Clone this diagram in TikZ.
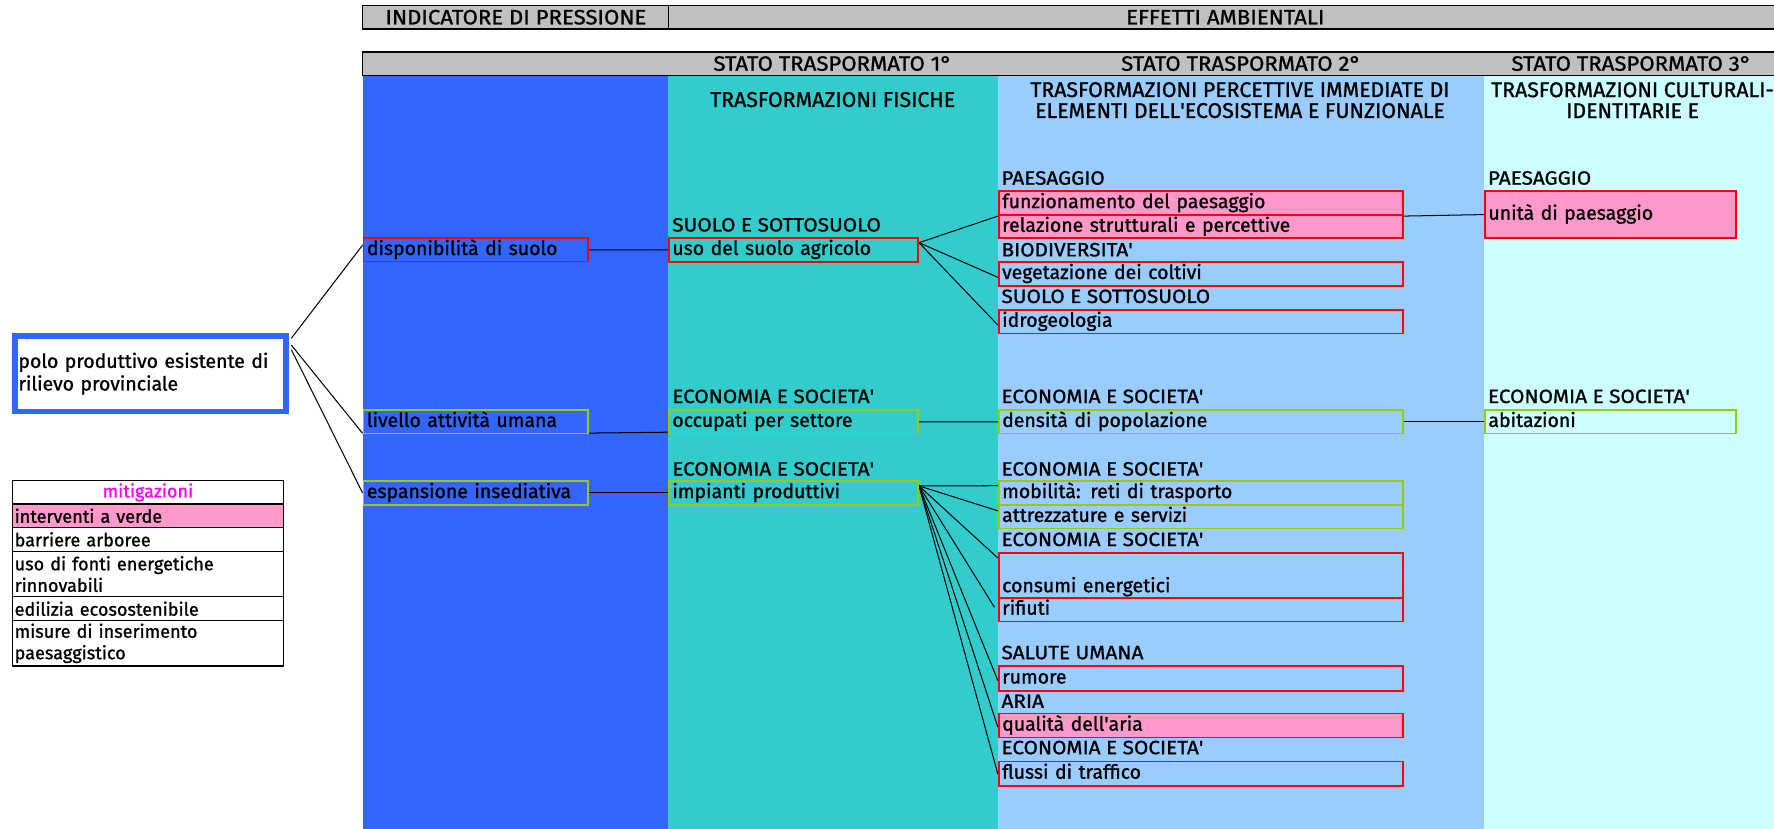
\documentclass[tikz,border=0pt]{standalone}
\usepackage{fontspec}
\setmainfont{Fira Sans}
\newfontfamily\bodyf{Fira Sans}[FakeBold=1.1]
\newfontfamily\capf{Fira Sans}[FakeBold=1.1, FakeStretch=1.08]
\newfontfamily\hdrf{Fira Sans}[FakeBold=1.1, FakeStretch=1.07]
\usetikzlibrary{calc}

\definecolor{cBlue}{HTML}{3366FF}
\definecolor{cTeal}{HTML}{33CCCC}
\definecolor{cSky}{HTML}{99CCFF}
\definecolor{cPale}{HTML}{CCFFFF}
\definecolor{cGray}{HTML}{C0C0C0}
\definecolor{cPink}{HTML}{FF99CC}
\definecolor{cLime}{HTML}{99CC00}
\definecolor{cRed}{HTML}{FF0000}
\definecolor{cMag}{HTML}{FF00FF}

\newcommand\ap{\textquotesingle}

\pgfdeclarelayer{back}
\pgfdeclarelayer{mid}
\pgfsetlayers{back,mid,main}

\tikzset{
  bodyfont/.style={font=\bodyf\fontsize{17.2}{20.7}\selectfont},
  cell/.style={draw, line width=1.6pt, inner xsep=3pt, inner ysep=0pt,
    align=left, text height=12pt, text depth=3pt, anchor=north west, bodyfont},
  redc/.style={cell, draw=cRed},
  limec/.style={cell, draw=cLime},
  pinkc/.style={cell, draw=cRed, fill=cPink},
  wA/.style={minimum width=198.5pt, text width=192.5pt},
  wB/.style={minimum width=220.2pt, text width=214.2pt},
  wC/.style={minimum width=357pt, text width=351pt},
  wD/.style={minimum width=221.8pt, text width=215.8pt},
  cat/.style={anchor=base west, inner sep=0pt, font=\capf\fontsize{17}{20.7}\selectfont},
  hdr/.style={inner sep=0pt, text height=12pt, text depth=0pt,
    font=\hdrf\fontsize{18.3}{20}\selectfont},
  colhdr/.style={inner sep=0pt, align=center,
    font=\bodyf\fontsize{18.8}{18.5}\selectfont},
  hdrrow/.style={draw=black, line width=1.5pt, fill=cGray},
  conn/.style={draw=black, line width=0.9pt},
  mrow/.style={draw=black, line width=1.3pt, fill=white, anchor=north west,
    minimum width=239.7pt, text width=235.7pt, inner xsep=2pt, inner ysep=0pt,
    align=left, font=\bodyf\fontsize{16}{19}\selectfont},
}

\begin{document}
\begin{tikzpicture}[x=1pt,y=-1pt]
\useasboundingbox (0,0) rectangle (1568,732);
\clip (0,0) rectangle (1568,732);

% column bands
\begin{pgfonlayer}{back}
  \fill[white] (0,0) rectangle (1568,732);
  \fill[cBlue] (320.5,66.8) rectangle (590.5,733);
  \fill[cTeal] (590.5,66.8) rectangle (881.8,733);
  \fill[cSky]  (881.8,66.8) rectangle (1311.8,733);
  \fill[cPale] (1311.8,66.8) rectangle (1590,733);
\end{pgfonlayer}

% header rows
\draw[hdrrow] (320.5,4.9) rectangle (1590,25.6);
\draw[black, line width=1.2pt] (591,4.9) -- (591,25.6);
\draw[hdrrow] (320.5,46) rectangle (1590,66.8);

\node[hdr] (hInd) at (456,15.5) {INDICATORE DI PRESSIONE};
\node[hdr] (hEff) at (1083,15.5) {EFFETTI AMBIENTALI};
\node[hdr] (hS1) at (736,56.5) {STATO TRASPORMATO 1°};
\node[hdr] (hS2) at (1097,56.5) {STATO TRASPORMATO 2°};
\node[hdr] (hS3) at (1442,56.5) {STATO TRASPORMATO 3°};

% column headings
\node[colhdr] (tFis) at (736,88) {TRASFORMAZIONI FISICHE};
\node[colhdr] (tPer) at (1096,88.5) {TRASFORMAZIONI PERCETTIVE IMMEDIATE DI\\ELEMENTI DELL\ap ECOSISTEMA E FUNZIONALE};
\node[colhdr] (tCul) at (1443,88.5) {TRASFORMAZIONI CULTURALI-\\IDENTITARIE E};

% pressure source
\node[draw=cBlue, line width=5pt, fill=white, anchor=north west,
  minimum width=239.5pt, minimum height=67.1pt, text width=232.9pt,
  inner xsep=3.3pt, inner ysep=0pt, align=left,
  font=\bodyf\fontsize{17.2}{20}\selectfont] (polo) at (10.5,294.2)
  {polo produttivo esistente di\\rilievo provinciale};

% mitigation table
\node[mrow, minimum height=21pt, align=center, text=cMag] (mHead) at (10.3,424) {mitigazioni};
\node[mrow, minimum height=20.5pt, fill=cPink] (m1) at (10.3,445) {interventi a verde};
\node[mrow, minimum height=21.2pt] (m2) at (10.3,465.5) {barriere arboree};
\node[mrow, minimum height=40.1pt] (m3) at (10.3,486.7) {uso di fonti energetiche\\rinnovabili};
\node[mrow, minimum height=21.2pt] (m4) at (10.3,526.8) {edilizia ecosostenibile};
\node[mrow, minimum height=40pt] (m5) at (10.3,548) {misure di inserimento\\paesaggistico};

% pressure indicators
\node[redc, wA, minimum height=20.6pt] (disp) at (320.5,209.8) {disponibilità di suolo};
\node[limec, wA, minimum height=20.6pt] (livello) at (320.5,361.8) {livello attività umana};
\node[limec, wA, minimum height=21.2pt] (espans) at (320.5,424.3) {espansione insediativa};

% state 1
\node[cat] (lSuolo1) at (594,204.6) {SUOLO E SOTTOSUOLO};
\node[redc, wB, minimum height=21pt] (uso) at (590.5,209.5) {uso del suolo agricolo};
\node[cat] (lEco1) at (594,356.2) {ECONOMIA E SOCIETA\ap};
\node[limec, wB, minimum height=20.8pt] (occup) at (590.5,361.6) {occupati per settore};
\node[cat] (lEco2) at (594,420.3) {ECONOMIA E SOCIETA\ap};
\node[limec, wB, minimum height=21.2pt] (impianti) at (590.5,424.3) {impianti produttivi};

% state 2
\node[cat] (lPae2) at (885,163.2) {PAESAGGIO};
\node[pinkc, wC, minimum height=21.5pt] (funz) at (882,167.9) {funzionamento del paesaggio};
\node[pinkc, wC, minimum height=20.4pt] (relaz) at (882,189.4) {relazione strutturali e percettive};
\node[cat] (lBio) at (885,226.6) {BIODIVERSITA\ap};
\node[redc, wC, minimum height=21.2pt] (veget) at (882,230.7) {vegetazione dei coltivi};
\node[cat] (lSuolo2) at (885,267.8) {SUOLO E SOTTOSUOLO};
\node[redc, wC, minimum height=20.9pt] (idro) at (882,273.1) {idrogeologia};
\node[cat] (lEco3) at (885,356.2) {ECONOMIA E SOCIETA\ap};
\node[limec, wC, minimum height=20.6pt] (dens) at (882,361.8) {densità di popolazione};
\node[cat] (lEco4) at (885,420.3) {ECONOMIA E SOCIETA\ap};
\node[limec, wC, minimum height=21.2pt] (mobil) at (882,424.3) {mobilità: reti di trasporto};
\node[limec, wC, minimum height=20.9pt] (attrez) at (882,445.5) {attrezzature e servizi};
\node[cat] (lEco5) at (885,482.6) {ECONOMIA E SOCIETA\ap};
\node[redc, wC, minimum height=39.2pt, text height=32.7pt] (consumi) at (882,488.2) {consumi energetici};
\node[redc, wC, minimum height=21.2pt] (rifiuti) at (882,527.4) {rifiuti};
\node[cat] (lSal) at (885,582.6) {SALUTE UMANA};
\node[redc, wC, minimum height=22.1pt] (rumore) at (882,587.8) {rumore};
\node[cat] (lAria) at (885,625.6) {ARIA};
\node[pinkc, wC, minimum height=21.2pt] (qualita) at (882,629.9) {qualità dell\ap aria};
\node[cat] (lEco6) at (885,666.6) {ECONOMIA E SOCIETA\ap};
\node[redc, wC, minimum height=21.3pt] (flussi) at (882,672.3) {flussi di traffico};

% state 3
\node[cat] (lPae3) at (1315,163.2) {PAESAGGIO};
\node[pinkc, wD, minimum height=41.9pt] (unita) at (1311.8,167.9) {unità di paesaggio};
\node[cat] (lEco7) at (1315,356.2) {ECONOMIA E SOCIETA\ap};
\node[limec, wD, minimum height=20.6pt] (abit) at (1311.8,361.8) {abitazioni};

% connectors
\begin{pgfonlayer}{mid}
  \draw[conn] ($(polo.north east)+(2.5,4.8)$) -- ($(disp.north west)+(0,6.8)$);
  \draw[conn] ($(polo.north east)+(2.5,10.8)$) -- ($(livello.south west)+(0,-1)$);
  \draw[conn] ($(polo.north east)+(2.5,14.8)$) -- (espans.west);
  \draw[conn] (disp.east) -- (uso.west);
  \draw[conn] ($(livello.south east)+(0,-1.2)$) -- ($(occup.south west)+(0,-2)$);
  \draw[conn] (espans.east) -- (impianti.west);
  \draw[conn] ($(uso.north east)+(0,5)$) -- (funz.south west);
  \draw[conn] ($(uso.north east)+(0,5)$) -- ($(veget.west)+(0,3)$);
  \draw[conn] ($(uso.north east)+(0,5)$) -- ($(idro.west)+(0,3)$);
  \draw[conn] (funz.south east) -- (unita.west);
  \draw[conn] (occup.east) -- (dens.west);
  \draw[conn] (dens.east) -- (abit.west);
  \draw[conn] ($(impianti.north east)+(0,5.2)$) -- ($(mobil.north west)+(0,5)$);
  \draw[conn] ($(impianti.north east)+(0,5.2)$) -- ($(attrez.north west)+(0,6)$);
  \draw[conn] ($(impianti.north east)+(0,5.2)$) -- ($(consumi.north west)+(0,5)$);
  \draw[conn] ($(impianti.north east)+(0,5.2)$) -- ($(rifiuti.west)+(-3,-2)$);
  \draw[conn] ($(impianti.north east)+(0,5.2)$) -- ($(rumore.west)+(0,2)$);
  \draw[conn] ($(impianti.north east)+(0,5.2)$) -- ($(qualita.west)+(0,1.5)$);
  \draw[conn] ($(impianti.north east)+(0,5.2)$) -- ($(flussi.west)+(0,0.5)$);
\end{pgfonlayer}
\end{tikzpicture}
\end{document}
